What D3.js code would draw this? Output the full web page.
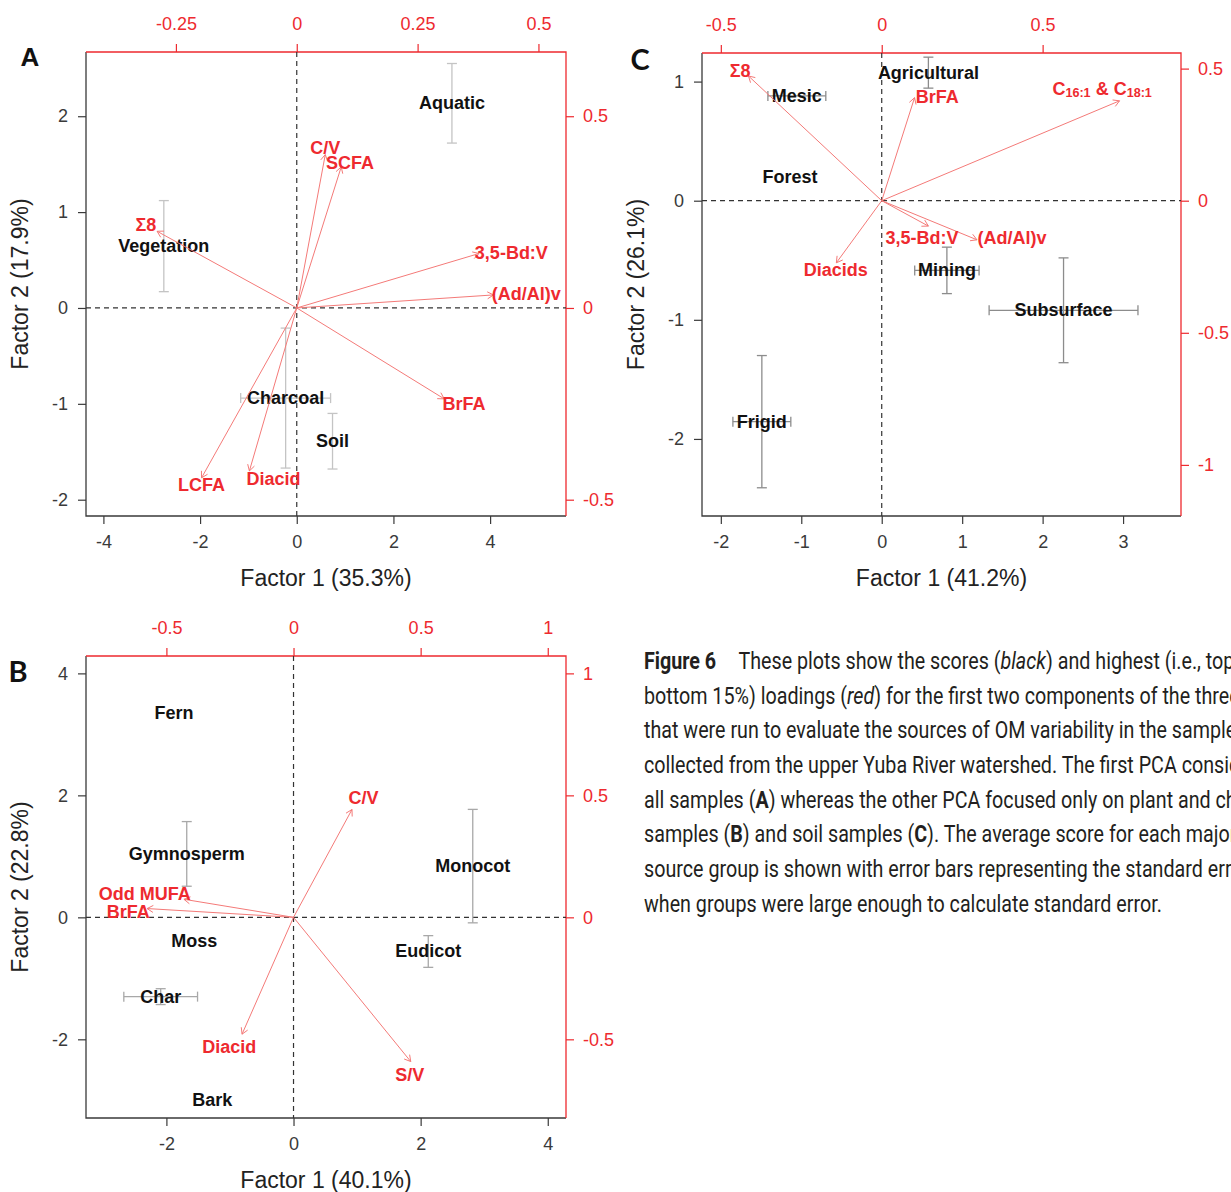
<!DOCTYPE html>
<html>
<head>
<meta charset="utf-8">
<script src="https://cdn.jsdelivr.net/npm/d3@7/dist/d3.min.js"></script>
<style>
  html, body { margin: 0; padding: 0; background: #fff; overflow: hidden; }
  svg { display: block; }
</style>
</head>
<body>
<svg id="chart" width="1231" height="1192"></svg>
<script>
// ---------------- DATA ----------------
// Panel A (all samples)
const aXDomain = [-4.36, 5.57];
const aYDomain = [-2.17, 2.67];
const aLoadRatio = [10, 4];          // score units per loading unit (x, y)
const aXTicks = [-4, -2, 0, 2, 4];
const aYTicks = [-2, -1, 0, 1, 2];
const aTopTicks = [-0.25, 0, 0.25, 0.5];
const aRightTicks = [-0.5, 0, 0.5];
const aXTitle = "Factor 1 (35.3%)";
const aYTitle = "Factor 2 (17.9%)";
const aScoreNames = ["Aquatic", "Vegetation", "Charcoal", "Soil"];
const aScoreX = [3.21, -2.75, -0.23, 0.74];
const aScoreY = [2.135, 0.645, -0.94, -1.39];
const aErrX = [0, 0, 0.93, 0];
const aErrY = [0.415, 0.475, 0.73, 0.29];
const aLoadNames = ["Σ8", "C/V", "SCFA", "3,5-Bd:V", "(Ad/Al)v", "BrFA", "LCFA", "Diacid"];
const aLoadX = [-0.289, 0.059, 0.092, 0.377, 0.407, 0.305, -0.197, -0.098];
const aLoadY = [0.200, 0.400, 0.368, 0.142, 0.034, -0.237, -0.443, -0.425];
const aLabelX = [-3.12, 0.59, 1.10, 4.44, 4.75, 3.46, -1.97, -0.48];
const aLabelY = [0.87, 1.67, 1.51, 0.57, 0.15, -1.00, -1.85, -1.78];

// Panel C (soil samples)
const cXDomain = [-2.234, 3.72];
const cYDomain = [-2.647, 1.24];
const cLoadRatio = [4, 2.218];
const cXTicks = [-2, -1, 0, 1, 2, 3];
const cYTicks = [-2, -1, 0, 1];
const cTopTicks = [-0.5, 0, 0.5];
const cRightTicks = [-1, -0.5, 0, 0.5];
const cXTitle = "Factor 1 (41.2%)";
const cYTitle = "Factor 2 (26.1%)";
const cScoreNames = ["Agricultural", "Mesic", "Forest", "Mining", "Subsurface", "Frigid"];
const cScoreX = [0.58, -1.055, -1.14, 0.81, 2.26, -1.49];
const cScoreY = [1.075, 0.88, 0.20, -0.585, -0.92, -1.855];
const cErrX = [0, 0.36, 0, 0.40, 0.925, 0.36];
const cErrY = [0.13, 0, 0, 0.195, 0.44, 0.555];
const cLoadNames = ["Σ8", "BrFA", "C16:1 & C18:1", "3,5-Bd:V", "(Ad/Al)v", "Diacids"];
const cLoadX = [-0.414, 0.102, 0.739, 0.145, 0.296, -0.141];
const cLoadY = [0.472, 0.390, 0.378, -0.096, -0.148, -0.235];
const cLabelX = [-1.76, 0.69, 2.74, 0.50, 1.62, -0.57];
const cLabelY = [1.087, 0.87, 0.94, -0.31, -0.31, -0.58];

// Panel B (plant and char samples)
const bXDomain = [-3.265, 4.287];
const bYDomain = [-3.29, 4.285];
const bLoadRatio = [4, 4];
const bXTicks = [-2, 0, 2, 4];
const bYTicks = [-2, 0, 2, 4];
const bTopTicks = [-0.5, 0, 0.5, 1];
const bRightTicks = [-0.5, 0, 0.5, 1];
const bXTitle = "Factor 1 (40.1%)";
const bYTitle = "Factor 2 (22.8%)";
const bScoreNames = ["Fern", "Gymnosperm", "Monocot", "Moss", "Eudicot", "Char", "Bark"];
const bScoreX = [-1.88, -1.68, 2.82, -1.56, 2.12, -2.09, -1.28];
const bScoreY = [3.35, 1.04, 0.84, -0.39, -0.56, -1.30, -3.00];
const bErrX = [0, 0, 0, 0, 0, 0.58, 0];
const bErrY = [0, 0.53, 0.93, 0, 0.26, 0.13, 0];
const bLoadNames = ["Odd MUFA", "BrFA", "C/V", "Diacid", "S/V"];
const bLoadX = [-0.431, -0.576, 0.230, -0.2025, 0.461];
const bLoadY = [0.074, 0.036, 0.442, -0.479, -0.591];
const bLabelX = [-2.34, -2.60, 1.10, -1.01, 1.83];
const bLabelY = [0.376, 0.085, 1.95, -2.13, -2.58];

// Caption
const captionLines = [
  "**Figure 6**|These plots show the scores (_black_) and highest (i.e., top 15% and",
  "bottom 15%) loadings (_red_) for the first two components of the three PCAs",
  "that were run to evaluate the sources of OM variability in the samples",
  "collected from the upper Yuba River watershed. The first PCA considered",
  "all samples (**A**) whereas the other PCA focused only on plant and char",
  "samples (**B**) and soil samples (**C**). The average score for each major",
  "source group is shown with error bars representing the standard error",
  "when groups were large enough to calculate standard error."
];

// ---------------- DRAWING ----------------
const RED = "#ee2a2f";
const RED_LINE = "#f47a78";
const AXIS_DARK = "#3a3a3a";
const FONT = "'Liberation Sans', Arial, Helvetica, sans-serif";

const svg = d3.select("#chart");

function zip(names, xs, ys, ex, ey) {
  return names.map((n, i) => ({ name: n, x: xs[i], y: ys[i], ex: ex ? ex[i] : 0, ey: ey ? ey[i] : 0 }));
}

function addLabelText(sel, name) {
  const parts = name.split(/(C\d+:\d)/).filter(s => s.length);
  let lowered = false;
  parts.forEach(p => {
    const m = p.match(/^C(\d+:\d)$/);
    if (m) {
      sel.append("tspan").attr("dy", lowered ? "-0.3em" : null).text("C");
      sel.append("tspan").attr("font-size", "0.7em").attr("dy", "0.3em").text(m[1]);
      lowered = true;
    } else {
      sel.append("tspan").attr("dy", lowered ? "-0.21em" : null).text(p);
      lowered = false;
    }
  });
}

function drawPanel(cfg) {
  const { L, R, T, B } = cfg.box;
  const g = svg.append("g");
  const x = d3.scaleLinear().domain(cfg.xDomain).range([L, R]);
  const y = d3.scaleLinear().domain(cfg.yDomain).range([B, T]);
  const xl = d3.scaleLinear().domain(cfg.xDomain.map(v => v / cfg.ratio[0])).range([L, R]);
  const yl = d3.scaleLinear().domain(cfg.yDomain.map(v => v / cfg.ratio[1])).range([B, T]);
  const fmt = d => String(d);

  function styleAxis(sel, color) {
    sel.select(".domain").remove();
    sel.selectAll(".tick line").attr("stroke", color).attr("stroke-width", 1.2);
    sel.selectAll(".tick text").attr("fill", color).attr("font-size", 18).attr("font-family", FONT);
  }

  // axes
  g.append("g").attr("transform", `translate(0,${B})`)
    .call(d3.axisBottom(x).tickValues(cfg.xTicks).tickSize(8).tickPadding(11).tickFormat(fmt))
    .call(s => styleAxis(s, AXIS_DARK));
  g.append("g").attr("transform", `translate(${L},0)`)
    .call(d3.axisLeft(y).tickValues(cfg.yTicks).tickSize(8).tickPadding(10).tickFormat(fmt))
    .call(s => styleAxis(s, AXIS_DARK));
  g.append("g").attr("transform", `translate(0,${T})`)
    .call(d3.axisTop(xl).tickValues(cfg.topTicks).tickSize(8).tickPadding(14).tickFormat(fmt))
    .call(s => styleAxis(s, RED));
  g.append("g").attr("transform", `translate(${R},0)`)
    .call(d3.axisRight(yl).tickValues(cfg.rightTicks).tickSize(8).tickPadding(9).tickFormat(fmt))
    .call(s => styleAxis(s, RED));

  // box
  g.append("path").attr("d", `M${L},${T}V${B}H${R}`).attr("fill", "none").attr("stroke", AXIS_DARK).attr("stroke-width", 1.3);
  g.append("path").attr("d", `M${L},${T}H${R}V${B}`).attr("fill", "none").attr("stroke", RED).attr("stroke-width", 1.3);

  // zero lines
  g.append("line").attr("x1", x(0)).attr("x2", x(0)).attr("y1", T).attr("y2", B)
    .attr("stroke", "#333").attr("stroke-width", 1.2).attr("stroke-dasharray", "5,4");
  g.append("line").attr("x1", L).attr("x2", R).attr("y1", y(0)).attr("y2", y(0))
    .attr("stroke", "#333").attr("stroke-width", 1.2).attr("stroke-dasharray", "5,4");

  // titles
  g.append("text").attr("x", (L + R) / 2).attr("y", B + 62).attr("text-anchor", "middle")
    .attr("dominant-baseline", "central").attr("font-size", 23).attr("font-family", FONT)
    .attr("fill", "#222").text(cfg.xTitle);
  g.append("text").attr("transform", `translate(${L - 66},${(T + B) / 2}) rotate(-90)`)
    .attr("text-anchor", "middle").attr("dominant-baseline", "central").attr("font-size", 23)
    .attr("font-family", FONT).attr("fill", "#222").text(cfg.yTitle);

  // panel letter
  g.append("text").attr("x", cfg.letterPos[0]).attr("y", cfg.letterPos[1])
    .attr("text-anchor", "middle").attr("dominant-baseline", "central")
    .attr("font-size", cfg.letterSize).attr("font-weight", "bold")
    .attr("font-family", cfg.letterFont).attr("fill", "#111").text(cfg.letter);

  // error bars
  const cap = 5;
  const eb = g.append("g").attr("stroke", cfg.errColor).attr("stroke-width", 1.3).attr("fill", "none");
  cfg.scores.forEach(d => {
    if (d.ey > 0) {
      const y0 = y(d.y - d.ey), y1 = y(d.y + d.ey), cx = x(d.x);
      eb.append("line").attr("x1", cx).attr("x2", cx).attr("y1", y0).attr("y2", y1);
      eb.append("line").attr("x1", cx - cap).attr("x2", cx + cap).attr("y1", y0).attr("y2", y0);
      eb.append("line").attr("x1", cx - cap).attr("x2", cx + cap).attr("y1", y1).attr("y2", y1);
    }
    if (d.ex > 0) {
      const x0 = x(d.x - d.ex), x1 = x(d.x + d.ex), cy = y(d.y);
      eb.append("line").attr("x1", x0).attr("x2", x1).attr("y1", cy).attr("y2", cy);
      eb.append("line").attr("x1", x0).attr("x2", x0).attr("y1", cy - cap).attr("y2", cy + cap);
      eb.append("line").attr("x1", x1).attr("x2", x1).attr("y1", cy - cap).attr("y2", cy + cap);
    }
  });

  // score labels
  g.append("g").selectAll("text").data(cfg.scores).join("text")
    .attr("x", d => x(d.x)).attr("y", d => y(d.y))
    .attr("text-anchor", "middle").attr("dominant-baseline", "central")
    .attr("font-size", 18).attr("font-weight", "bold").attr("font-family", FONT)
    .attr("fill", "#111").text(d => d.name);

  // loading arrows
  const ag = g.append("g").attr("stroke", RED_LINE).attr("stroke-width", 1).attr("fill", "none");
  const ox = xl(0), oy = yl(0);
  cfg.loads.forEach(d => {
    const tx = xl(d.x), ty = yl(d.y);
    ag.append("line").attr("x1", ox).attr("y1", oy).attr("x2", tx).attr("y2", ty);
    const a = Math.atan2(ty - oy, tx - ox), len = 7;
    [Math.PI / 6, -Math.PI / 6].forEach(da => {
      ag.append("line").attr("x1", tx).attr("y1", ty)
        .attr("x2", tx - len * Math.cos(a + da)).attr("y2", ty - len * Math.sin(a + da));
    });
  });

  // loading labels
  g.append("g").selectAll("text").data(cfg.loadLabels).join("text")
    .attr("x", d => x(d.x)).attr("y", d => y(d.y))
    .attr("text-anchor", "middle").attr("dominant-baseline", "central")
    .attr("font-size", 18).attr("font-weight", "bold").attr("font-family", FONT)
    .attr("fill", RED)
    .each(function (d) { addLabelText(d3.select(this), d.name); });
}

drawPanel({
  box: { L: 86, R: 566, T: 52, B: 516 },
  xDomain: aXDomain, yDomain: aYDomain, ratio: aLoadRatio,
  xTicks: aXTicks, yTicks: aYTicks, topTicks: aTopTicks, rightTicks: aRightTicks,
  xTitle: aXTitle, yTitle: aYTitle,
  letter: "A", letterPos: [30, 57], letterSize: 26, letterFont: FONT,
  errColor: "#c4c4c4",
  scores: zip(aScoreNames, aScoreX, aScoreY, aErrX, aErrY),
  loads: zip(aLoadNames, aLoadX, aLoadY),
  loadLabels: zip(aLoadNames, aLabelX, aLabelY)
});

drawPanel({
  box: { L: 702, R: 1181, T: 53, B: 516 },
  xDomain: cXDomain, yDomain: cYDomain, ratio: cLoadRatio,
  xTicks: cXTicks, yTicks: cYTicks, topTicks: cTopTicks, rightTicks: cRightTicks,
  xTitle: cXTitle, yTitle: cYTitle,
  letter: "C", letterPos: [640, 58], letterSize: 29, letterFont: "Lato, 'Open Sans', sans-serif",
  errColor: "#8c8c8c",
  scores: zip(cScoreNames, cScoreX, cScoreY, cErrX, cErrY),
  loads: zip(cLoadNames, cLoadX, cLoadY),
  loadLabels: zip(cLoadNames, cLabelX, cLabelY)
});

drawPanel({
  box: { L: 86, R: 566, T: 656, B: 1118 },
  xDomain: bXDomain, yDomain: bYDomain, ratio: bLoadRatio,
  xTicks: bXTicks, yTicks: bYTicks, topTicks: bTopTicks, rightTicks: bRightTicks,
  xTitle: bXTitle, yTitle: bYTitle,
  letter: "B", letterPos: [18, 670], letterSize: 29, letterFont: "Lato, 'Open Sans', sans-serif",
  errColor: "#a8a8a8",
  scores: zip(bScoreNames, bScoreX, bScoreY, bErrX, bErrY),
  loads: zip(bLoadNames, bLoadX, bLoadY),
  loadLabels: zip(bLoadNames, bLabelX, bLabelY)
});

// caption (condensed by a horizontal scale fitted to the last, fully visible line)
const capX = 644, capLastWidth = 518;
const capG = svg.append("g").attr("font-family", "Roboto, 'Liberation Sans', sans-serif")
  .attr("font-size", 23).attr("fill", "#231f20");
const capTexts = captionLines.map((line, i) => {
  const t = capG.append("text").attr("x", 0).attr("y", 669 + i * 34.7);
  const segs = line.split(/(\*\*[^*]+\*\*|_[^_]+_|\|)/).filter(s => s.length);
  let pendingDx = null;
  segs.forEach(s => {
    if (s === "|") { pendingDx = 26; return; }
    let m, ts;
    if ((m = s.match(/^\*\*(.+)\*\*$/))) ts = t.append("tspan").attr("font-weight", "bold").text(m[1]);
    else if ((m = s.match(/^_(.+)_$/))) ts = t.append("tspan").attr("font-style", "italic").text(m[1]);
    else ts = t.append("tspan").text(s);
    if (pendingDx !== null) { ts.attr("dx", pendingDx); pendingDx = null; }
  });
  return t;
});
const lastLen = capTexts[capTexts.length - 1].node().getComputedTextLength();
const sx = lastLen > 0 ? capLastWidth / lastLen : 0.82;
capG.attr("transform", `translate(${capX},0) scale(${sx},1)`);
</script>
</body>
</html>
